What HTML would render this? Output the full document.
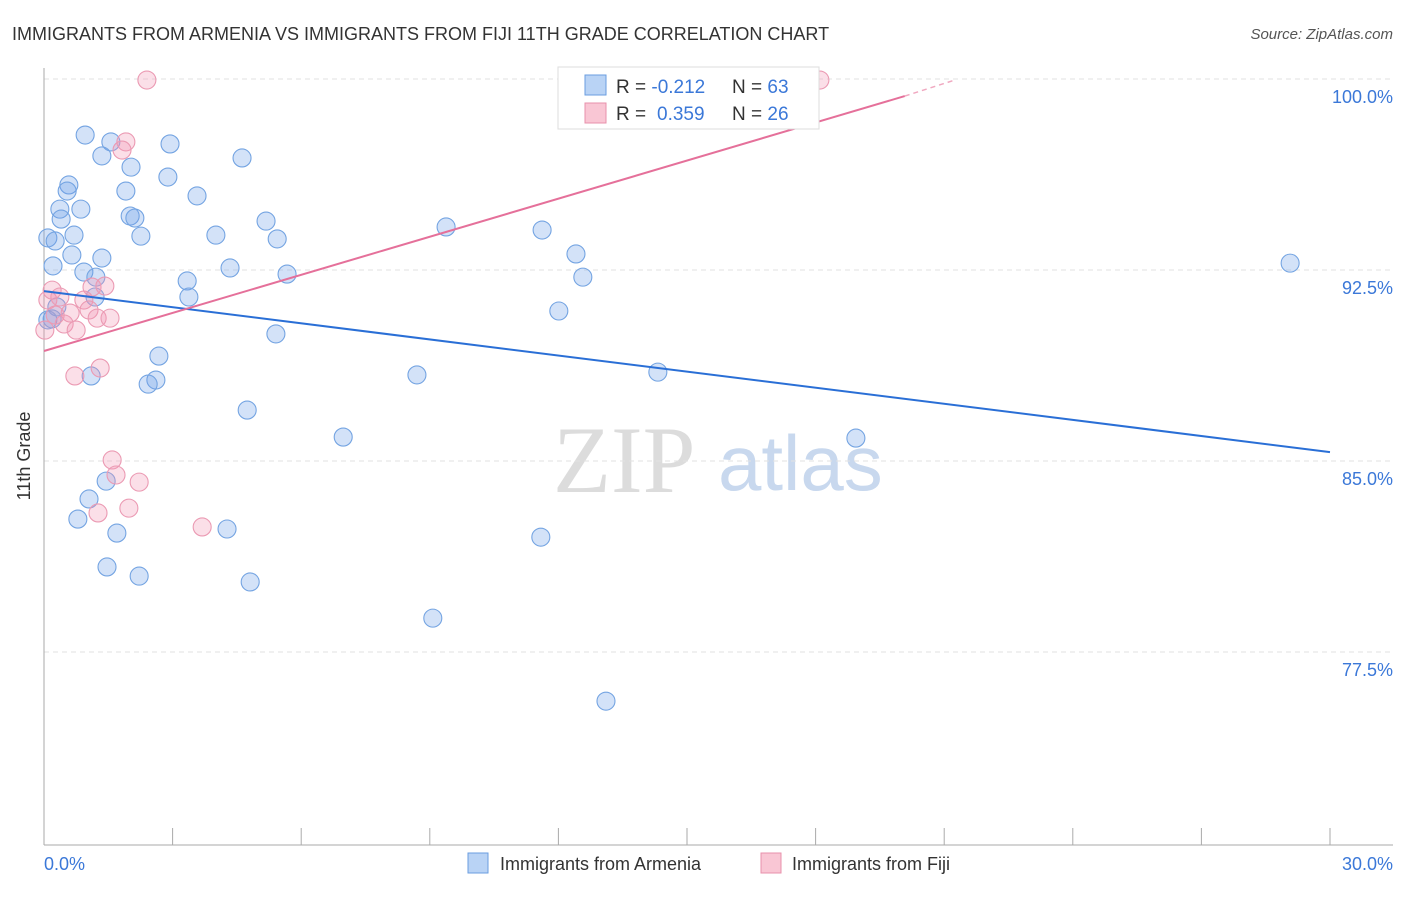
<!DOCTYPE html>
<html><head><meta charset="utf-8"><style>
body{margin:0;background:#fff;font-family:"Liberation Sans",sans-serif}
</style></head><body>
<svg width="1406" height="892" viewBox="0 0 1406 892" xmlns="http://www.w3.org/2000/svg" font-family="Liberation Sans, sans-serif">
<text x="12" y="40" font-size="18" fill="#333">IMMIGRANTS FROM ARMENIA VS IMMIGRANTS FROM FIJI 11TH GRADE CORRELATION CHART</text>
<text x="1393" y="39" font-size="15" fill="#555" font-style="italic" text-anchor="end">Source: ZipAtlas.com</text>
<g>
<text x="553" y="492" font-size="95" font-family="Liberation Serif, serif" fill="#dcdcdc">ZIP</text>
<text x="718" y="490" font-size="78" fill="#c8d8ee">atlas</text>
</g>
<g id="grid"></g>
<line x1="44" y1="68" x2="44" y2="845" stroke="#aaa"/>
<line x1="44" y1="845" x2="1393" y2="845" stroke="#aaa"/>
<g id="xticks"></g>
<text x="30" y="456" font-size="18" fill="#333" text-anchor="middle" transform="rotate(-90 30 456)">11th Grade</text>
<text x="44" y="870" font-size="18" fill="#3b78d8">0.0%</text>
<text x="1393" y="870" font-size="18" fill="#3b78d8" text-anchor="end">30.0%</text>
<g id="points"></g>
<g id="lines"></g>
<g>
<rect x="558" y="67" width="261" height="62" fill="#fff" stroke="#ddd"/>
<rect x="585" y="75" width="21" height="20" fill="#b9d3f5" stroke="#6a9ee0"/>
<rect x="585" y="103" width="21" height="20" fill="#f9c6d4" stroke="#e890ab"/>
<text x="616" y="93" font-size="19" fill="#333">R = <tspan fill="#3b78d8">-0.212</tspan><tspan x="732">N = </tspan><tspan fill="#3b78d8">63</tspan></text>
<text x="616" y="120" font-size="19" fill="#333">R = <tspan fill="#3b78d8" x="657">0.359</tspan><tspan x="732">N = </tspan><tspan fill="#3b78d8">26</tspan></text>
</g>
<g>
<rect x="468" y="853" width="20" height="20" fill="#b9d3f5" stroke="#6a9ee0"/>
<text x="500" y="870" font-size="18" fill="#333">Immigrants from Armenia</text>
<rect x="761" y="853" width="20" height="20" fill="#f9c6d4" stroke="#e890ab"/>
<text x="792" y="870" font-size="18" fill="#333">Immigrants from Fiji</text>
</g>
</svg>
<script>
const yTicks=[100,92.5,85,77.5];
const yTickLabels=["100.0%","92.5%","85.0%","77.5%"];
const xTickVals=[0,3,6,9,12,15,18,21,24,27,30];
const armeniaX=[0.96,1.56,2.94,1.35,4.62,2.03,2.89,0.58,1.91,0.54,3.57,0.37,0.86,2.01,2.12,0.40,5.18,9.38,11.62,0.09,0.70,0.26,2.26,4.01,5.44,0.65,12.41,1.35,0.21,4.34,0.93,1.21,3.34,5.67,12.57,29.07,3.38,1.19,0.30,0.19,12.01,5.41,2.68,1.10,2.61,2.43,8.70,14.32,4.74,6.98,18.94,1.45,1.05,0.79,1.70,4.27,11.59,1.47,2.22,4.81,9.07,13.11,0.09];
const armeniaY=[97.80,97.53,97.45,96.98,96.90,96.54,96.15,95.84,95.60,95.60,95.41,94.89,94.89,94.62,94.54,94.50,94.42,94.19,94.07,93.76,93.87,93.64,93.83,93.87,93.72,93.09,93.13,92.97,92.66,92.58,92.42,92.22,92.07,92.34,92.22,92.77,91.44,91.44,91.05,90.58,90.89,89.99,89.12,88.34,88.18,88.02,88.38,88.49,87.00,85.94,85.90,84.21,83.51,82.72,82.17,82.33,82.01,80.84,80.48,80.25,78.83,75.57,90.54];
const fijiX=[2.40,18.10,1.91,1.82,0.09,0.19,0.37,1.12,1.42,0.93,1.05,0.61,1.24,1.54,0.47,0.75,0.26,0.72,1.31,1.59,1.68,2.22,1.26,1.98,3.69,0.02];
const fijiY=[99.96,99.96,97.53,97.21,91.32,91.71,91.44,91.83,91.87,91.32,90.93,90.81,90.61,90.61,90.38,90.14,90.73,88.34,88.65,85.04,84.45,84.17,82.96,83.15,82.41,90.14];
const armeniaTrend=[[0,91.67],[30,85.35]];
const fijiTrend=[[0,89.32],[20.08,99.33]];
const fijiTrendExt=[[20.08,99.33],[21.25,99.96]];
const NS="http://www.w3.org/2000/svg";
const sx=v=>44+v*(1286/30);
const sy=v=>79+(100-v)*(191/7.5);
function mk(tag,attrs,parent){const e=document.createElementNS(NS,tag);for(const k in attrs)e.setAttribute(k,attrs[k]);parent.appendChild(e);return e;}
const grid=document.getElementById('grid');
yTicks.forEach((t,i)=>{
 const l=mk('line',{x1:44,x2:1393,y1:sy(t),y2:sy(t),stroke:'#e2e2e2','stroke-dasharray':'5,4'},grid);
 
 
 const tx=mk('text',{x:1393,y:sy(t)+24,'font-size':18,fill:'#3b78d8','text-anchor':'end'},grid);
 tx.textContent=yTickLabels[i];
 
 
});
const xt=document.getElementById('xticks');
xTickVals.forEach(v=>{
 const l=mk('line',{x1:sx(v),x2:sx(v),y1:828,y2:845,stroke:'#aaa'},xt);
 
 
});
const pts=document.getElementById('points');
armeniaX.forEach((x,i)=>{
 const c=mk('circle',{cx:sx(x),cy:sy(armeniaY[i]),r:9,fill:'rgba(110,160,232,0.3)',stroke:'#74a4e2','stroke-width':1.1},pts);
 
 
});
fijiX.forEach((x,i)=>{
 const c=mk('circle',{cx:sx(x),cy:sy(fijiY[i]),r:9,fill:'rgba(242,150,178,0.3)',stroke:'#eb9ab3','stroke-width':1.1},pts);
 
 
});
const ln=document.getElementById('lines');
const a=mk('line',{x1:sx(armeniaTrend[0][0]),y1:sy(armeniaTrend[0][1]),x2:sx(armeniaTrend[1][0]),y2:sy(armeniaTrend[1][1]),stroke:'#2a6fd6','stroke-width':2},ln);


const f=mk('line',{x1:sx(fijiTrend[0][0]),y1:sy(fijiTrend[0][1]),x2:sx(fijiTrend[1][0]),y2:sy(fijiTrend[1][1]),stroke:'#e5709a','stroke-width':2},ln);


const fe=mk('line',{x1:sx(fijiTrendExt[0][0]),y1:sy(fijiTrendExt[0][1]),x2:sx(fijiTrendExt[1][0]),y2:sy(fijiTrendExt[1][1]),stroke:'#f0a8c0','stroke-width':1.5,'stroke-dasharray':'5,4'},ln);


</script>
</body></html>
